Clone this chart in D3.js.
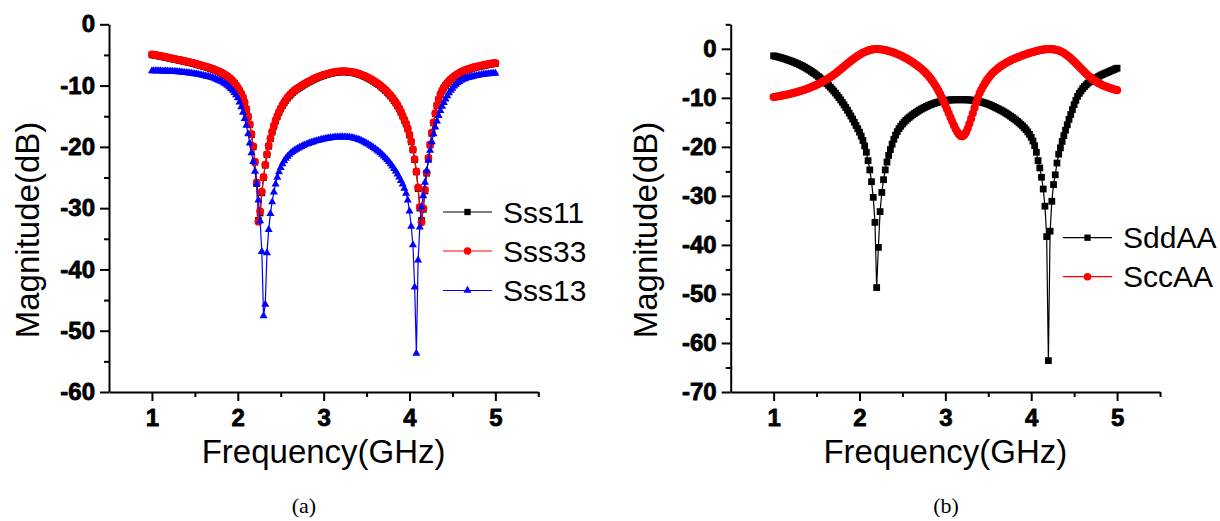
<!DOCTYPE html>
<html>
<head>
<meta charset="utf-8">
<script src="https://cdn.jsdelivr.net/npm/d3@7"></script>
<style>
  body { margin: 0; background: #ffffff; }
  svg text { font-family: "Liberation Sans", Arial, Helvetica, sans-serif; }
  .tick-label { font-family: "Liberation Sans", Arial, sans-serif; font-weight: 700; font-size: 24px; }
</style>
</head>
<body>
<svg id="chart" width="1220" height="521"></svg>
<script>
// Frequency sweep: 1 GHz to 5 GHz in 0.02 GHz steps (201 points)
const freqStart = 1.0;
const freqStep = 0.02;
const freqCount = 201;

// ---- Panel (a): single-ended S-parameters (dB) ----
const sss11 = [
  -4.98,-5.03,-5.08,-5.13,-5.18,-5.23,-5.29,-5.35,-5.41,-5.47,
  -5.53,-5.59,-5.65,-5.71,-5.77,-5.83,-5.89,-5.95,-6.01,-6.07,
  -6.13,-6.19,-6.26,-6.33,-6.40,-6.47,-6.54,-6.62,-6.70,-6.78,
  -6.86,-6.94,-7.02,-7.11,-7.20,-7.30,-7.40,-7.51,-7.63,-7.76,
  -7.90,-8.05,-8.21,-8.38,-8.58,-8.80,-9.05,-9.33,-9.65,-10.01,
  -10.42,-10.88,-11.40,-12.00,-12.80,-13.90,-15.10,-16.40,-18.00,-20.00,
  -22.50,-26.00,-32.00,-30.80,-27.50,-25.00,-23.00,-21.30,-19.90,-18.70,
  -17.60,-16.65,-15.80,-15.05,-14.40,-13.82,-13.30,-12.84,-12.42,-12.05,
  -11.72,-11.42,-11.15,-10.90,-10.68,-10.48,-10.30,-10.12,-9.95,-9.78,
  -9.62,-9.47,-9.32,-9.17,-9.03,-8.90,-8.78,-8.66,-8.55,-8.45,
  -8.35,-8.26,-8.18,-8.10,-8.03,-7.97,-7.91,-7.86,-7.82,-7.79,
  -7.77,-7.76,-7.76,-7.77,-7.79,-7.82,-7.86,-7.91,-7.97,-8.04,
  -8.12,-8.21,-8.31,-8.42,-8.54,-8.67,-8.81,-8.96,-9.12,-9.29,
  -9.47,-9.66,-9.86,-10.08,-10.31,-10.56,-10.82,-11.10,-11.40,-11.72,
  -12.07,-12.45,-12.86,-13.31,-13.81,-14.37,-15.00,-15.65,-16.30,-17.10,
  -18.10,-19.20,-20.50,-22.10,-24.10,-26.80,-30.00,-32.00,-30.20,-27.20,
  -24.30,-21.90,-19.70,-17.80,-16.10,-14.60,-13.30,-12.30,-11.50,-10.90,
  -10.40,-10.00,-9.65,-9.35,-9.07,-8.82,-8.59,-8.38,-8.19,-8.02,
  -7.87,-7.74,-7.62,-7.51,-7.41,-7.32,-7.23,-7.15,-7.07,-7.00,
  -6.93,-6.87,-6.81,-6.75,-6.69,-6.63,-6.58,-6.53,-6.48,-6.44,
  -6.40
];

const sss33 = [
  -4.90,-4.95,-5.00,-5.05,-5.10,-5.15,-5.21,-5.27,-5.33,-5.39,
  -5.45,-5.51,-5.57,-5.63,-5.69,-5.75,-5.81,-5.87,-5.93,-5.99,
  -6.05,-6.11,-6.18,-6.25,-6.32,-6.39,-6.46,-6.54,-6.62,-6.70,
  -6.78,-6.86,-6.94,-7.03,-7.12,-7.22,-7.32,-7.43,-7.55,-7.68,
  -7.82,-7.97,-8.13,-8.30,-8.50,-8.72,-8.97,-9.25,-9.57,-9.93,
  -10.33,-10.78,-11.30,-11.90,-12.70,-13.80,-15.00,-16.30,-17.90,-19.90,
  -22.40,-25.80,-32.20,-30.50,-27.30,-24.90,-22.90,-21.20,-19.80,-18.60,
  -17.50,-16.55,-15.70,-14.95,-14.30,-13.72,-13.20,-12.74,-12.32,-11.95,
  -11.62,-11.32,-11.05,-10.80,-10.58,-10.38,-10.20,-10.02,-9.85,-9.68,
  -9.52,-9.37,-9.22,-9.07,-8.93,-8.80,-8.68,-8.56,-8.45,-8.35,
  -8.25,-8.16,-8.08,-8.00,-7.93,-7.87,-7.81,-7.76,-7.72,-7.69,
  -7.67,-7.66,-7.66,-7.67,-7.69,-7.72,-7.76,-7.81,-7.87,-7.94,
  -8.02,-8.11,-8.21,-8.32,-8.44,-8.57,-8.71,-8.86,-9.02,-9.19,
  -9.37,-9.56,-9.76,-9.98,-10.21,-10.46,-10.72,-11.00,-11.30,-11.62,
  -11.97,-12.35,-12.76,-13.21,-13.71,-14.27,-14.90,-15.55,-16.20,-17.00,
  -18.00,-19.10,-20.40,-22.00,-24.00,-26.60,-29.80,-32.30,-30.00,-27.00,
  -24.20,-21.80,-19.60,-17.70,-16.00,-14.50,-13.20,-12.20,-11.40,-10.80,
  -10.30,-9.90,-9.55,-9.25,-8.97,-8.72,-8.49,-8.28,-8.09,-7.92,
  -7.77,-7.64,-7.52,-7.41,-7.31,-7.22,-7.13,-7.05,-6.97,-6.90,
  -6.83,-6.77,-6.71,-6.65,-6.59,-6.53,-6.48,-6.43,-6.38,-6.34,
  -6.30
];

const sss13 = [
  -7.60,-7.60,-7.61,-7.61,-7.62,-7.62,-7.63,-7.64,-7.65,-7.66,
  -7.67,-7.68,-7.70,-7.72,-7.74,-7.76,-7.78,-7.81,-7.84,-7.87,
  -7.90,-7.93,-7.97,-8.01,-8.05,-8.09,-8.14,-8.19,-8.24,-8.30,
  -8.36,-8.42,-8.49,-8.56,-8.64,-8.72,-8.81,-8.91,-9.02,-9.14,
  -9.27,-9.42,-9.59,-9.78,-9.99,-10.23,-10.50,-10.80,-11.14,-11.52,
  -12.00,-12.70,-13.50,-14.40,-15.40,-16.50,-17.90,-19.40,-21.00,-22.40,
  -24.00,-26.00,-28.70,-32.10,-37.10,-47.60,-45.70,-37.30,-33.50,-30.90,
  -29.00,-27.40,-26.10,-25.00,-24.10,-23.40,-22.80,-22.30,-21.90,-21.55,
  -21.25,-21.00,-20.78,-20.58,-20.40,-20.24,-20.09,-19.95,-19.82,-19.70,
  -19.58,-19.47,-19.37,-19.27,-19.18,-19.09,-19.01,-18.93,-18.86,-18.79,
  -18.73,-18.67,-18.62,-18.57,-18.53,-18.49,-18.46,-18.43,-18.41,-18.40,
  -18.39,-18.39,-18.40,-18.41,-18.43,-18.46,-18.50,-18.55,-18.61,-18.68,
  -18.77,-18.88,-19.00,-19.13,-19.27,-19.42,-19.58,-19.75,-19.93,-20.12,
  -20.32,-20.53,-20.75,-20.98,-21.23,-21.50,-21.79,-22.10,-22.43,-22.78,
  -23.15,-23.55,-23.98,-24.45,-24.95,-25.50,-26.10,-26.80,-27.60,-28.70,
  -30.50,-33.00,-36.00,-42.90,-53.70,-38.50,-33.10,-29.80,-28.00,-25.80,
  -23.90,-22.20,-20.60,-19.20,-17.90,-16.80,-15.80,-14.90,-14.10,-13.40,
  -12.80,-12.20,-11.70,-11.20,-10.80,-10.45,-10.10,-9.80,-9.55,-9.35,
  -9.15,-9.00,-8.90,-8.80,-8.72,-8.64,-8.57,-8.50,-8.44,-8.38,
  -8.33,-8.28,-8.23,-8.19,-8.15,-8.11,-8.08,-8.05,-8.02,-8.00,
  -7.98
];

// ---- Panel (b): mixed-mode reflection (dB) ----
const sddAA = [
  -1.43,-1.51,-1.60,-1.69,-1.79,-1.89,-2.00,-2.11,-2.23,-2.35,
  -2.48,-2.61,-2.75,-2.90,-3.05,-3.21,-3.38,-3.56,-3.75,-3.95,
  -4.16,-4.38,-4.61,-4.85,-5.10,-5.36,-5.63,-5.91,-6.20,-6.50,
  -6.81,-7.13,-7.47,-7.83,-8.21,-8.61,-9.03,-9.47,-9.93,-10.41,
  -10.91,-11.43,-11.97,-12.53,-13.11,-13.71,-14.33,-14.97,-15.63,-16.31,
  -17.00,-17.80,-18.70,-19.80,-21.10,-22.80,-24.70,-27.10,-30.30,-35.40,
  -48.70,-40.50,-33.20,-29.30,-26.70,-24.70,-23.10,-21.75,-20.55,-19.45,
  -18.45,-17.60,-16.90,-16.30,-15.80,-15.35,-14.95,-14.60,-14.28,-13.98,
  -13.70,-13.44,-13.19,-12.95,-12.72,-12.50,-12.30,-12.11,-11.93,-11.76,
  -11.60,-11.45,-11.31,-11.18,-11.06,-10.95,-10.85,-10.76,-10.68,-10.61,
  -10.55,-10.50,-10.46,-10.43,-10.41,-10.40,-10.39,-10.39,-10.39,-10.39,
  -10.39,-10.39,-10.40,-10.41,-10.43,-10.46,-10.50,-10.55,-10.61,-10.68,
  -10.76,-10.85,-10.95,-11.06,-11.18,-11.31,-11.45,-11.60,-11.76,-11.93,
  -12.11,-12.28,-12.46,-12.65,-12.85,-13.06,-13.28,-13.51,-13.75,-14.00,
  -14.26,-14.53,-14.81,-15.10,-15.41,-15.74,-16.10,-16.50,-16.95,-17.45,
  -18.05,-18.80,-19.75,-21.10,-22.80,-24.30,-26.20,-28.60,-32.10,-38.30,
  -63.60,-37.20,-31.10,-27.70,-25.70,-23.30,-21.50,-20.20,-18.90,-17.70,
  -16.60,-15.50,-14.40,-13.40,-12.40,-11.40,-10.50,-9.70,-9.10,-8.60,
  -8.10,-7.70,-7.35,-7.00,-6.75,-6.50,-6.30,-6.10,-5.90,-5.70,
  -5.50,-5.30,-5.15,-5.00,-4.85,-4.70,-4.55,-4.40,-4.25,-4.10,
  -3.95
];

const sccAA = [
  -9.85,-9.79,-9.73,-9.67,-9.60,-9.53,-9.46,-9.39,-9.31,-9.23,
  -9.15,-9.06,-8.97,-8.88,-8.78,-8.68,-8.57,-8.46,-8.34,-8.22,
  -8.09,-7.95,-7.81,-7.66,-7.51,-7.35,-7.18,-7.01,-6.83,-6.64,
  -6.44,-6.23,-6.01,-5.78,-5.54,-5.29,-5.03,-4.76,-4.48,-4.19,
  -3.90,-3.61,-3.32,-3.03,-2.75,-2.47,-2.20,-1.94,-1.69,-1.45,
  -1.22,-1.01,-0.82,-0.65,-0.50,-0.37,-0.26,-0.17,-0.10,-0.06,
  -0.04,-0.06,-0.10,-0.15,-0.21,-0.28,-0.36,-0.45,-0.55,-0.66,
  -0.78,-0.91,-1.05,-1.20,-1.36,-1.53,-1.71,-1.90,-2.10,-2.31,
  -2.53,-2.76,-3.00,-3.25,-3.51,-3.78,-4.07,-4.38,-4.71,-5.07,
  -5.46,-5.88,-6.34,-6.84,-7.38,-7.96,-8.58,-9.25,-9.96,-10.71,
  -11.50,-12.32,-13.16,-14.00,-14.83,-15.62,-16.35,-16.98,-17.47,-17.78,
  -17.85,-17.60,-17.05,-16.25,-15.30,-14.25,-13.15,-12.05,-10.98,-9.97,
  -9.03,-8.30,-7.65,-7.05,-6.50,-6.00,-5.55,-5.15,-4.80,-4.47,
  -4.17,-3.89,-3.63,-3.39,-3.16,-2.94,-2.74,-2.55,-2.37,-2.20,
  -2.04,-1.89,-1.75,-1.61,-1.48,-1.35,-1.22,-1.10,-0.98,-0.87,
  -0.76,-0.66,-0.56,-0.47,-0.38,-0.30,-0.23,-0.16,-0.11,-0.07,
  -0.05,-0.05,-0.07,-0.11,-0.17,-0.25,-0.36,-0.50,-0.67,-0.87,
  -1.10,-1.36,-1.64,-1.94,-2.26,-2.60,-2.95,-3.31,-3.67,-4.03,
  -4.39,-4.74,-5.08,-5.40,-5.71,-6.00,-6.27,-6.52,-6.75,-6.96,
  -7.15,-7.32,-7.48,-7.63,-7.77,-7.90,-8.02,-8.13,-8.24,-8.34,
  -8.44
];

// ---- Axis ticks and labels ----
const xMajorTicks = [1, 2, 3, 4, 5];
const xMinorTicks = [1.5, 2.5, 3.5, 4.5, 5.5];
const yMajorTicksA = [0, -10, -20, -30, -40, -50, -60];
const yMinorTicksA = [-5, -15, -25, -35, -45, -55];
const yMajorTicksB = [0, -10, -20, -30, -40, -50, -60, -70];
const yMinorTicksB = [5, -5, -15, -25, -35, -45, -55, -65];
const xTitle = "Frequency(GHz)";
const yTitle = "Magnitude(dB)";
const seriesNamesA = ["Sss11", "Sss33", "Sss13"];
const seriesNamesB = ["SddAA", "SccAA"];
const captions = ["(a)", "(b)"];

const freq = d3.range(freqCount).map(i => +(freqStart + i * freqStep).toFixed(2));

const svg = d3.select("#chart");

function drawPanel(cfg) {
  const g = svg.append("g");
  const x = d3.scaleLinear().domain([0.5, 5.5]).range([cfg.left, cfg.right]);
  const y = d3.scaleLinear().domain(cfg.yDomain).range([cfg.bottom, cfg.top]);

  // curves: connecting line plus a symbol at every sample
  cfg.series.forEach(s => {
    const pts = freq.map((f, i) => [f, s.values[i]]);
    g.append("path")
      .datum(pts)
      .attr("fill", "none")
      .attr("stroke", s.color)
      .attr("stroke-width", 1.2)
      .attr("d", d3.line().x(d => x(d[0])).y(d => y(d[1])));
    const sym = d3.symbol(s.symbol, s.size)();
    g.append("g").selectAll("path")
      .data(pts)
      .join("path")
      .attr("transform", d => `translate(${x(d[0])},${y(d[1])})`)
      .attr("d", sym)
      .attr("fill", s.color);
  });

  // y axis
  const yAxis = g.append("g").attr("transform", `translate(${cfg.left},0)`);
  yAxis.call(d3.axisLeft(y).tickValues(cfg.yMajor).tickSize(9).tickSizeOuter(0)
    .tickPadding(5).tickFormat(d => String(d)));
  const yMinor = g.append("g").attr("transform", `translate(${cfg.left},0)`);
  yMinor.call(d3.axisLeft(y).tickValues(cfg.yMinor).tickSize(5).tickSizeOuter(0).tickFormat(""));
  yMinor.select(".domain").remove();

  // x axis
  const xAxis = g.append("g").attr("transform", `translate(0,${cfg.bottom})`);
  xAxis.call(d3.axisBottom(x).tickValues(xMajorTicks).tickSize(9).tickSizeOuter(0)
    .tickPadding(8).tickFormat(d => String(d)));
  const xMinor = g.append("g").attr("transform", `translate(0,${cfg.bottom})`);
  xMinor.call(d3.axisBottom(x).tickValues(xMinorTicks).tickSize(5).tickSizeOuter(0).tickFormat(""));
  xMinor.select(".domain").remove();

  // remove the library's default font attributes so the class styling applies
  [yAxis, xAxis].forEach(a => a.attr("font-family", null).attr("font-size", null));

  g.selectAll(".domain, .tick line")
    .attr("stroke", "#000")
    .attr("stroke-width", 2);
  // heavy bold tick numbers
  g.selectAll(".tick text")
    .classed("tick-label", true)
    .attr("fill", "#000")
    .attr("stroke", "#000")
    .attr("stroke-width", 0.8)
    .attr("stroke-linejoin", "round");

  // axis titles
  g.append("text")
    .attr("x", x(3))
    .attr("y", cfg.bottom + 71)
    .attr("text-anchor", "middle")
    .style("font-size", "33px")
    .text(xTitle);
  g.append("text")
    .attr("transform", `translate(${cfg.yTitleX},230) rotate(-90)`)
    .attr("text-anchor", "middle")
    .style("font-size", "33px")
    .text(yTitle);

  // legend
  cfg.series.forEach((s, i) => {
    const ly = cfg.legend.y[i];
    const lg = g.append("g");
    lg.append("line")
      .attr("x1", cfg.legend.x).attr("x2", cfg.legend.x + 49)
      .attr("y1", ly).attr("y2", ly)
      .attr("stroke", s.color).attr("stroke-width", 1.2);
    lg.append("path")
      .attr("transform", `translate(${cfg.legend.x + 24.5},${ly})`)
      .attr("d", d3.symbol(s.symbol, s.legendSize)())
      .attr("fill", s.color);
    lg.append("text")
      .attr("x", cfg.legend.x + 60)
      .attr("y", ly + 10.5)
      .style("font-size", "30px")
      .text(s.name);
  });

  // caption
  g.append("text")
    .attr("x", cfg.captionX)
    .attr("y", 513)
    .attr("text-anchor", "middle")
    .style("font-family", "'Liberation Serif', 'DejaVu Serif', serif")
    .style("font-size", "22px")
    .text(cfg.caption);
}

drawPanel({
  left: 109, right: 538.3, top: 24.3, bottom: 392,
  yDomain: [-60, 0],
  yMajor: yMajorTicksA, yMinor: yMinorTicksA,
  yTitleX: 38.5,
  series: [
    { name: seriesNamesA[0], values: sss11, color: "#000000", symbol: d3.symbolSquare, size: 44, legendSize: 40 },
    { name: seriesNamesA[1], values: sss33, color: "#ff0000", symbol: d3.symbolCircle, size: 48, legendSize: 44 },
    { name: seriesNamesA[2], values: sss13, color: "#0000ff", symbol: d3.symbolTriangle, size: 28, legendSize: 28 }
  ],
  legend: { x: 443, y: [212, 251, 290.5] },
  caption: captions[0], captionX: 304
});

drawPanel({
  left: 730.7, right: 1160, top: 24.3, bottom: 392,
  yDomain: [-70, 5],
  yMajor: yMajorTicksB, yMinor: yMinorTicksB,
  yTitleX: 657,
  series: [
    { name: seriesNamesB[0], values: sddAA, color: "#000000", symbol: d3.symbolSquare, size: 46, legendSize: 40 },
    { name: seriesNamesB[1], values: sccAA, color: "#ff0000", symbol: d3.symbolCircle, size: 52, legendSize: 44 }
  ],
  legend: { x: 1063, y: [237.7, 276.7] },
  caption: captions[1], captionX: 946
});
</script>
</body>
</html>
